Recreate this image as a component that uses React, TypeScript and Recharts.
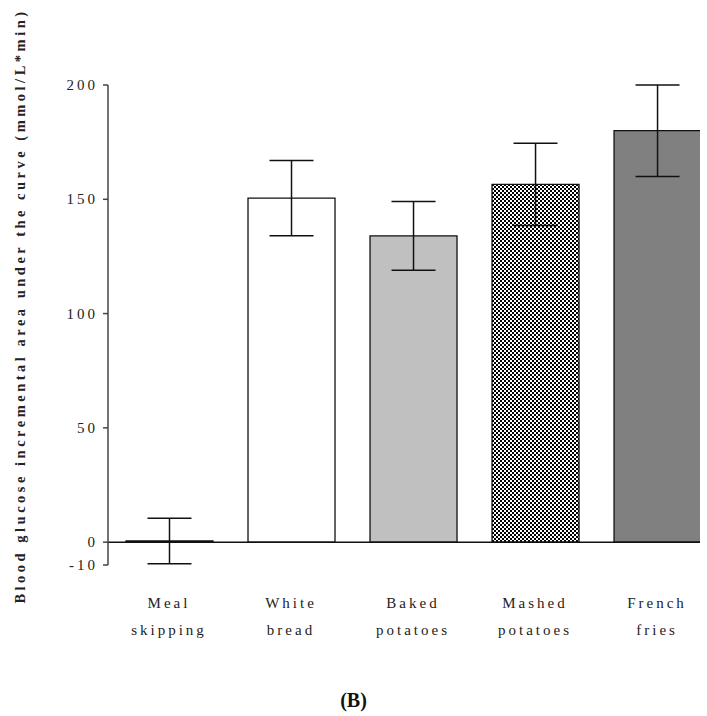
import React from "react";
import { BarChart, Bar, XAxis, YAxis, ErrorBar, Cell, ReferenceLine, Label } from "recharts";

const CATEGORY_LINE1 = ["Meal", "White", "Baked", "Mashed", "French"];
const CATEGORY_LINE2 = ["skipping", "bread", "potatoes", "potatoes", "fries"];
const MEANS = [0.5, 150.5, 134, 156.5, 180];
const ERRORS = [10, 16.5, 15, 18, 20];
const Y_TICKS = [-10, 0, 50, 100, 150, 200];
const X_POSITIONS = [0.5, 1.5, 2.5, 3.5, 4.5];

const FILLS = ["#ffffff", "#ffffff", "#c0c0c0", "url(#checker)", "#808080"];
const SERIF = "Liberation Serif, Times New Roman, serif";

const data = MEANS.map((v, i) => ({
  pos: X_POSITIONS[i],
  value: v,
  err: ERRORS[i],
}));

const CategoryTick = (props: any) => {
  const { x, y, payload } = props;
  const i = X_POSITIONS.indexOf(payload.value);
  return (
    <g>
      <text x={x} y={y + 43} textAnchor="middle" style={{ fontFamily: SERIF }} fontSize={15} letterSpacing={3} fill="#222">
        {CATEGORY_LINE1[i]}
      </text>
      <text x={x} y={y + 70} textAnchor="middle" style={{ fontFamily: SERIF }} fontSize={15} letterSpacing={3} fill="#222">
        {CATEGORY_LINE2[i]}
      </text>
    </g>
  );
};

const YLabel = () => (
  <text
    x={0}
    y={0}
    transform="translate(25, 306) rotate(-90)"
    textAnchor="middle"
    style={{ fontFamily: SERIF }}
    fontSize={14.5}
    fontWeight="bold"
    letterSpacing={3.5}
    fill="#222"
  >
    Blood glucose incremental area under the curve (mmol/L*min)
  </text>
);

const YTick = (props: any) => {
  const { x, y, payload } = props;
  return (
    <text x={x} y={y} dy={5} textAnchor="end" style={{ fontFamily: SERIF }} fontSize={15} letterSpacing={3} fill="#222">
      {payload.value}
    </text>
  );
};

export default function App() {
  return (
    <div style={{ position: "absolute", left: 0, top: 0, width: 707, height: 716, background: "#fff" }}>
      <BarChart
        width={707}
        height={716}
        data={data}
        margin={{ top: 85, right: 7, bottom: 121, left: 8 }}
      >
        <defs>
          <pattern id="checker" width={4} height={4} patternUnits="userSpaceOnUse">
            <rect x={0} y={0} width={4} height={4} fill="#ffffff" />
            <rect x={0} y={0} width={2} height={2} fill="#000000" />
            <rect x={2} y={2} width={2} height={2} fill="#000000" />
          </pattern>
        </defs>
        <XAxis
          type="number"
          dataKey="pos"
          domain={[0, 4.852]}
          ticks={X_POSITIONS}
          allowDataOverflow
          axisLine={false}
          tickLine={false}
          tickSize={0}
          tickMargin={0}
          height={30}
          interval={0}
          tick={<CategoryTick />}
        />
        <YAxis
          type="number"
          domain={[-10, 200]}
          ticks={Y_TICKS}
          interval={0}
          width={100}
          tickSize={5}
          tickMargin={5}
          axisLine={{ stroke: "#444", strokeWidth: 1.5 }}
          tickLine={{ stroke: "#444", strokeWidth: 1.5 }}
          tick={<YTick />}
        >
          <Label content={<YLabel />} />
        </YAxis>
        <Bar dataKey="value" barSize={87} stroke="#111" strokeWidth={1.3} isAnimationActive={false}>
          {data.map((_, i) => (
            <Cell key={i} fill={FILLS[i]} />
          ))}
          <ErrorBar dataKey="err" width={22} stroke="#111" strokeWidth={1.5} direction="y" />
        </Bar>
        <ReferenceLine y={0} stroke="#111" strokeWidth={1.5} />
      </BarChart>
      <div
        style={{
          position: "absolute",
          left: 0,
          width: 707,
          top: 689,
          textAlign: "center",
          fontFamily: SERIF,
          fontWeight: "bold",
          fontSize: 20,
          color: "#111",
        }}
      >
        (B)
      </div>
    </div>
  );
}
